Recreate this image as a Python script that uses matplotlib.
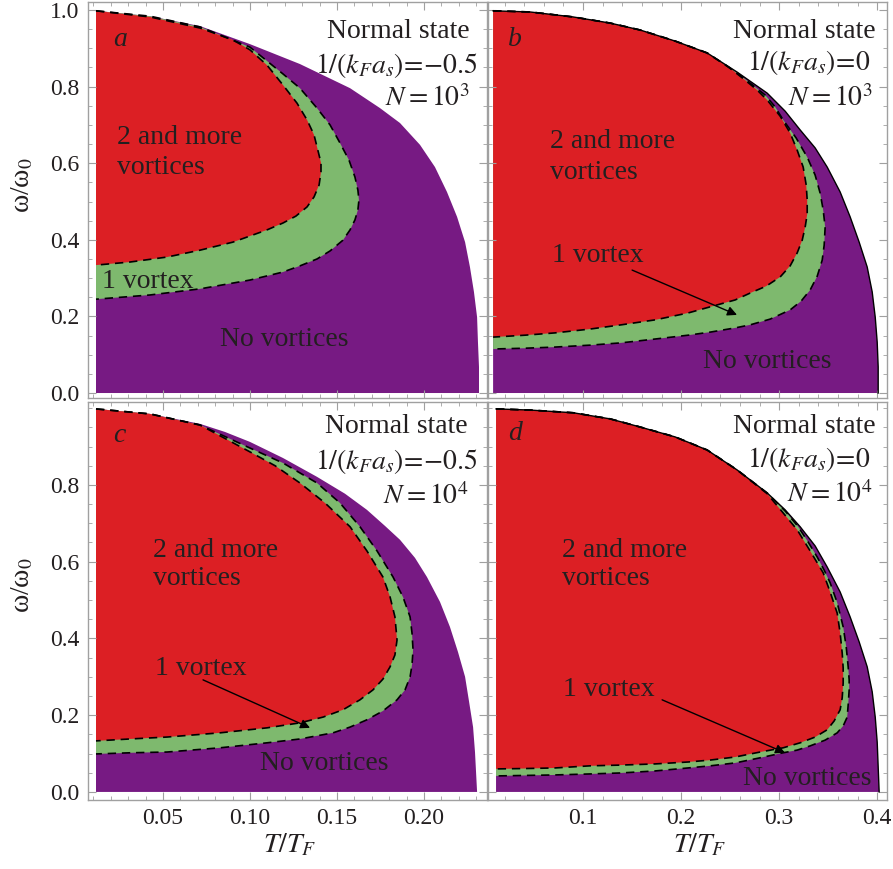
import matplotlib
matplotlib.use("agg")
import matplotlib.pyplot as plt
from matplotlib.ticker import FixedLocator, MultipleLocator
import numpy as np

plt.rcParams["font.family"] = ["Liberation Serif", "DejaVu Serif"]
plt.rcParams["mathtext.fontset"] = "stix"

RED = "#dc1f24"
GREEN = "#7eb96e"
PURPLE = "#771a83"
TXT = "#231f20"
FRAME = "#a0a0a0"

# each curve: columns T/T_F, omega/omega_0
# panel a: 1/(kF as) = -0.5, N = 10^3
a_normal = np.array([
    [0.0115, 0.998], [0.0425, 0.984], [0.0713, 0.958], [0.100, 0.911], [0.1287, 0.859],
    [0.1575, 0.796], [0.1747, 0.744], [0.1862, 0.705], [0.1977, 0.648], [0.2063, 0.590],
    [0.2132, 0.525], [0.219, 0.460], [0.2236, 0.394], [0.2264, 0.329], [0.2287, 0.264],
    [0.2305, 0.198], [0.2310, 0.133], [0.2316, 0.068], [0.2316, 0.0]])
a_one = np.array([
    [0.0115, 0.998], [0.0425, 0.984], [0.0713, 0.956], [0.100, 0.903], [0.119, 0.833],
    [0.1287, 0.796], [0.1385, 0.744], [0.146, 0.700], [0.1517, 0.653], [0.1569, 0.608],
    [0.1603, 0.564], [0.162, 0.530], [0.1626, 0.504], [0.162, 0.478], [0.1603, 0.452],
    [0.1575, 0.426], [0.1534, 0.399], [0.146, 0.371], [0.1385, 0.350], [0.1287, 0.332],
    [0.119, 0.316], [0.100, 0.295], [0.0713, 0.272], [0.0425, 0.256], [0.0115, 0.245]])
a_two = np.array([
    [0.0115, 0.998], [0.0425, 0.982], [0.0713, 0.953], [0.0902, 0.922], [0.100, 0.896],
    [0.1098, 0.856], [0.119, 0.804], [0.127, 0.757], [0.1328, 0.713], [0.1368, 0.674],
    [0.139, 0.634], [0.1408, 0.601], [0.1408, 0.577], [0.1397, 0.543], [0.1368, 0.512],
    [0.1328, 0.486], [0.1264, 0.462], [0.119, 0.444], [0.1098, 0.426], [0.100, 0.410],
    [0.0902, 0.394], [0.0713, 0.373], [0.0523, 0.355], [0.031, 0.342], [0.0115, 0.334]])

# panel b: 1/(kF as) = 0, N = 10^3
b_normal = np.array([
    [0.0082, 0.998], [0.0459, 0.995], [0.0898, 0.982], [0.1276, 0.966], [0.158, 0.948],
    [0.1939, 0.919], [0.2265, 0.888], [0.2571, 0.838], [0.2878, 0.783], [0.3061, 0.736],
    [0.3214, 0.687], [0.3367, 0.640], [0.349, 0.590], [0.3622, 0.525], [0.3724, 0.460],
    [0.3816, 0.394], [0.3898, 0.329], [0.3949, 0.264], [0.398, 0.198], [0.400, 0.133],
    [0.401, 0.068], [0.401, 0.0]])
b_one = np.array([
    [0.0082, 0.998], [0.0459, 0.995], [0.0898, 0.982], [0.1276, 0.966], [0.158, 0.948],
    [0.1939, 0.919], [0.2265, 0.888], [0.2571, 0.836], [0.2857, 0.778], [0.2959, 0.747],
    [0.3041, 0.713], [0.3173, 0.666], [0.3286, 0.616], [0.3367, 0.569], [0.3418, 0.522],
    [0.3449, 0.478], [0.3469, 0.433], [0.3459, 0.386], [0.3439, 0.347], [0.3388, 0.305],
    [0.3316, 0.269], [0.3224, 0.240], [0.3112, 0.217], [0.2908, 0.193], [0.2704, 0.178],
    [0.2551, 0.170], [0.2296, 0.159], [0.2071, 0.151], [0.1735, 0.141], [0.1388, 0.131],
    [0.1071, 0.125], [0.0714, 0.120], [0.0408, 0.117], [0.0082, 0.115]])
b_two = np.array([
    [0.0082, 0.998], [0.0459, 0.995], [0.0898, 0.982], [0.1276, 0.966], [0.158, 0.948],
    [0.1939, 0.919], [0.2265, 0.888], [0.2469, 0.854], [0.2653, 0.817], [0.2776, 0.791],
    [0.2878, 0.765], [0.301, 0.723], [0.3112, 0.679], [0.3184, 0.634], [0.3245, 0.590],
    [0.3276, 0.543], [0.3286, 0.504], [0.3286, 0.467], [0.3265, 0.433], [0.3235, 0.399],
    [0.3184, 0.366], [0.3112, 0.332], [0.301, 0.303], [0.2867, 0.279], [0.2704, 0.261],
    [0.2551, 0.243], [0.2296, 0.225], [0.2071, 0.209], [0.1735, 0.191], [0.1388, 0.178],
    [0.1071, 0.167], [0.0714, 0.157], [0.0408, 0.151], [0.0082, 0.146]])

# panel c: 1/(kF as) = -0.5, N = 10^4
c_normal = np.array([
    [0.0115, 0.998], [0.0425, 0.985], [0.0713, 0.959], [0.0856, 0.938], [0.100, 0.912],
    [0.119, 0.870], [0.1385, 0.821], [0.1546, 0.777], [0.1672, 0.735], [0.1776, 0.693],
    [0.1862, 0.657], [0.1948, 0.610], [0.2017, 0.560], [0.2092, 0.495], [0.2149, 0.430],
    [0.2195, 0.365], [0.2236, 0.300], [0.2259, 0.235], [0.2282, 0.169], [0.2293, 0.104],
    [0.2299, 0.052], [0.2305, 0.0]])
c_one = np.array([
    [0.0115, 0.998], [0.0425, 0.985], [0.0713, 0.956], [0.100, 0.896], [0.119, 0.857],
    [0.1385, 0.805], [0.1517, 0.753], [0.1632, 0.691], [0.173, 0.628], [0.1822, 0.560],
    [0.1879, 0.508], [0.192, 0.456], [0.1931, 0.414], [0.1937, 0.370], [0.1931, 0.331],
    [0.192, 0.300], [0.1891, 0.266], [0.1845, 0.240], [0.1764, 0.211], [0.1672, 0.188],
    [0.1575, 0.169], [0.1477, 0.154], [0.1287, 0.138], [0.1098, 0.128], [0.0828, 0.115],
    [0.0523, 0.104], [0.031, 0.102], [0.0115, 0.099]])
c_two = np.array([
    [0.0115, 0.998], [0.0425, 0.985], [0.0713, 0.956], [0.100, 0.886], [0.1144, 0.850],
    [0.1287, 0.805], [0.1431, 0.753], [0.1575, 0.691], [0.1672, 0.628], [0.1764, 0.560],
    [0.1805, 0.508], [0.1833, 0.456], [0.1845, 0.396], [0.1833, 0.357], [0.1805, 0.326],
    [0.1764, 0.294], [0.1707, 0.266], [0.1632, 0.240], [0.1534, 0.214], [0.142, 0.195],
    [0.1287, 0.180], [0.1098, 0.167], [0.0828, 0.154], [0.0523, 0.143], [0.031, 0.138],
    [0.0115, 0.133]])

# panel d: 1/(kF as) = 0, N = 10^4
d_normal = np.array([
    [0.0112, 0.998], [0.0459, 0.995], [0.0898, 0.988], [0.1276, 0.972], [0.158, 0.951],
    [0.1939, 0.925], [0.2265, 0.891], [0.2571, 0.839], [0.2878, 0.779], [0.3061, 0.735],
    [0.3214, 0.691], [0.3367, 0.641], [0.349, 0.586], [0.3622, 0.521], [0.3724, 0.456],
    [0.3816, 0.391], [0.3898, 0.326], [0.3949, 0.261], [0.398, 0.195], [0.400, 0.130],
    [0.401, 0.065], [0.402, 0.0]])
d_one = np.array([
    [0.0112, 0.998], [0.0459, 0.995], [0.0898, 0.988], [0.1276, 0.972], [0.158, 0.951],
    [0.1939, 0.925], [0.2265, 0.891], [0.2571, 0.839], [0.2878, 0.779], [0.3061, 0.732],
    [0.3194, 0.691], [0.3296, 0.651], [0.3388, 0.612], [0.3459, 0.578], [0.352, 0.545],
    [0.3592, 0.493], [0.3653, 0.430], [0.3684, 0.378], [0.3704, 0.326], [0.3714, 0.292],
    [0.3714, 0.266], [0.3704, 0.227], [0.3694, 0.195], [0.3653, 0.172], [0.3592, 0.154],
    [0.3469, 0.135], [0.3316, 0.120], [0.3184, 0.109], [0.3041, 0.102], [0.2806, 0.089],
    [0.2551, 0.0756], [0.2296, 0.068], [0.2071, 0.0625], [0.1735, 0.0547], [0.1388, 0.0495],
    [0.1071, 0.0469], [0.0714, 0.0443], [0.0408, 0.043], [0.0112, 0.0417]])
d_two = np.array([
    [0.0112, 0.998], [0.0459, 0.995], [0.0898, 0.988], [0.1276, 0.972], [0.158, 0.951],
    [0.1939, 0.925], [0.2265, 0.891], [0.2571, 0.839], [0.2878, 0.777], [0.3031, 0.730],
    [0.3184, 0.683], [0.3316, 0.628], [0.3449, 0.571], [0.352, 0.521], [0.3592, 0.466],
    [0.3622, 0.414], [0.3643, 0.362], [0.3653, 0.323], [0.3653, 0.284], [0.3643, 0.245],
    [0.3622, 0.214], [0.3561, 0.185], [0.349, 0.162], [0.3367, 0.143], [0.3214, 0.128],
    [0.3041, 0.115], [0.2806, 0.104], [0.2551, 0.091], [0.2296, 0.083], [0.2071, 0.078],
    [0.1735, 0.073], [0.1388, 0.070], [0.1071, 0.068], [0.0714, 0.0625], [0.0408, 0.061],
    [0.0112, 0.060]])

panel_letters = ["a", "b", "c", "d"]
coupling_labels = [r"$1/(k_{F}a_{s})\!=\!{-}0.5$", r"$1/(k_{F}a_{s})\!=\!0$",
                   r"$1/(k_{F}a_{s})\!=\!{-}0.5$", r"$1/(k_{F}a_{s})\!=\!0$"]
n_labels = [r"$N = 10^{3}$", r"$N = 10^{3}$", r"$N = 10^{4}$", r"$N = 10^{4}$"]

W, H = 893, 869
fig = plt.figure(figsize=(W / 100, H / 100), dpi=100)


def add_axes(x0, y0, x1, y1):
    return fig.add_axes([x0 / W, 1 - y1 / H, (x1 - x0) / W, (y1 - y0) / H])


ax_a = add_axes(88, 2, 487, 398)
ax_b = add_axes(488, 2, 887, 398)
ax_c = add_axes(88, 402, 487, 800)
ax_d = add_axes(488, 402, 887, 800)
axes = [ax_a, ax_b, ax_c, ax_d]
curves = [(a_normal, a_one, a_two), (b_normal, b_one, b_two),
          (c_normal, c_one, c_two), (d_normal, d_one, d_two)]

FS = 20

for i, (ax, (normal, one, two)) in enumerate(zip(axes, curves)):
    t0 = normal[0, 0]
    ax.fill(np.append(normal[:, 0], t0), np.append(normal[:, 1], 0.0),
            color=PURPLE, lw=0)
    ax.fill(one[:, 0], one[:, 1], color=GREEN, lw=0)
    ax.fill(two[:, 0], two[:, 1], color=RED, lw=0)
    ax.plot(one[:, 0], one[:, 1], color="black", lw=1.2, ls=(0, (5, 3.5)))
    ax.plot(two[:, 0], two[:, 1], color="black", lw=1.2, ls=(0, (5, 3.5)))
    if i in (1, 3):
        ax.plot(normal[:, 0], normal[:, 1], color="black", lw=1.0)

    for sp in ax.spines.values():
        sp.set_color(FRAME)
        sp.set_linewidth(1.0)
    ax.tick_params(which="both", direction="in", top=True, right=True,
                   color=FRAME, labelcolor=TXT, labelsize=17)
    ax.tick_params(which="major", length=6, width=0.8)
    ax.tick_params(which="minor", length=3, width=0.6)
    ax.tick_params(axis="y", pad=6)
    ax.tick_params(axis="x", pad=6)

# limits and ticks
for ax in (ax_a, ax_c):
    ax.set_xlim(0.0069, 0.2362)
    ax.xaxis.set_major_locator(FixedLocator([0.05, 0.10, 0.15, 0.20]))
    ax.xaxis.set_minor_locator(MultipleLocator(0.01))
for ax in (ax_b, ax_d):
    ax.set_xlim(0.003, 0.410)
    ax.xaxis.set_major_locator(FixedLocator([0.1, 0.2, 0.3, 0.4]))
    ax.xaxis.set_minor_locator(MultipleLocator(0.02))
for ax in (ax_a, ax_b):
    ax.set_ylim(-0.013, 1.021)
    ax.yaxis.set_major_locator(FixedLocator([0.0, 0.2, 0.4, 0.6, 0.8, 1.0]))
for ax in (ax_c, ax_d):
    ax.set_ylim(-0.021, 1.016)
    ax.yaxis.set_major_locator(FixedLocator([0.0, 0.2, 0.4, 0.6, 0.8]))
for ax in axes:
    ax.yaxis.set_minor_locator(MultipleLocator(0.05))

ax_a.set_yticklabels(["0.0", "0.2", "0.4", "0.6", "0.8", "1.0"])
ax_c.set_yticklabels(["0.0", "0.2", "0.4", "0.6", "0.8"])
ax_c.set_xticklabels(["0.05", "0.10", "0.15", "0.20"])
ax_d.set_xticklabels(["0.1", "0.2", "0.3", "0.4"])
ax_a.tick_params(labelbottom=False)
ax_b.tick_params(labelbottom=False, labelleft=False)
ax_d.tick_params(labelleft=False)

# in-panel text
letter_pos = [(0.0213, 0.922), (0.0235, 0.924), (0.0213, 0.930), (0.0235, 0.933)]
header_pos = [
    [(0.2264, 0.943), (0.2305, 0.854), (0.2264, 0.768)],
    [(0.398, 0.943), (0.393, 0.864), (0.395, 0.770)],
    [(0.2253, 0.951), (0.2305, 0.860), (0.2253, 0.769)],
    [(0.398, 0.951), (0.393, 0.865), (0.395, 0.774)],
]
two_pos = [(0.0236, 0.666, 0.590), (0.0663, 0.658, 0.577),
           (0.0443, 0.628, 0.555), (0.0786, 0.628, 0.555)]
one_pos = [(0.0149, 0.292), (0.0684, 0.358), (0.0454, 0.3205), (0.0796, 0.268)]
none_pos = [(0.0828, 0.141), (0.2224, 0.0836), (0.1057, 0.073), (0.2633, 0.034)]
arrows = [None, ((0.150, 0.321), (0.257, 0.204)),
          ((0.073, 0.292), (0.1345, 0.167)), ((0.1806, 0.240), (0.306, 0.102))]

for i, ax in enumerate(axes):
    kw = dict(color=TXT, fontsize=FS)
    ax.text(*letter_pos[i], panel_letters[i], style="italic", ha="left", va="center", **kw)
    hp = header_pos[i]
    ax.text(*hp[0], "Normal state", ha="right", va="center", **kw)
    ax.text(*hp[1], coupling_labels[i], ha="right", va="center", **kw)
    ax.text(*hp[2], n_labels[i], ha="right", va="center", **kw)
    x, y1, y2 = two_pos[i]
    ax.text(x, y1, "2 and more", ha="left", va="center", **kw)
    ax.text(x, y2, "vortices", ha="left", va="center", **kw)
    ax.text(*one_pos[i], "1 vortex", ha="left", va="center", **kw)
    ax.text(*none_pos[i], "No vortices", ha="left", va="center", **kw)
    if arrows[i] is not None:
        start, end = arrows[i]
        ax.annotate("", xy=end, xytext=start,
                    arrowprops=dict(arrowstyle="-|>", color="black", lw=1.0,
                                    mutation_scale=14, shrinkA=0, shrinkB=0))

# axis labels
for yc in (185, 585):
    fig.text(23 / W, 1 - yc / H, "ω/ω$_{0}$", rotation=90, ha="center", va="center",
             color=TXT, fontsize=20)
for xc in (290, 700):
    fig.text(xc / W, 1 - 845 / H, r"$T/T_{F}$", ha="center", va="center",
             color=TXT, fontsize=20)

fig.savefig("out.png", dpi=100)
